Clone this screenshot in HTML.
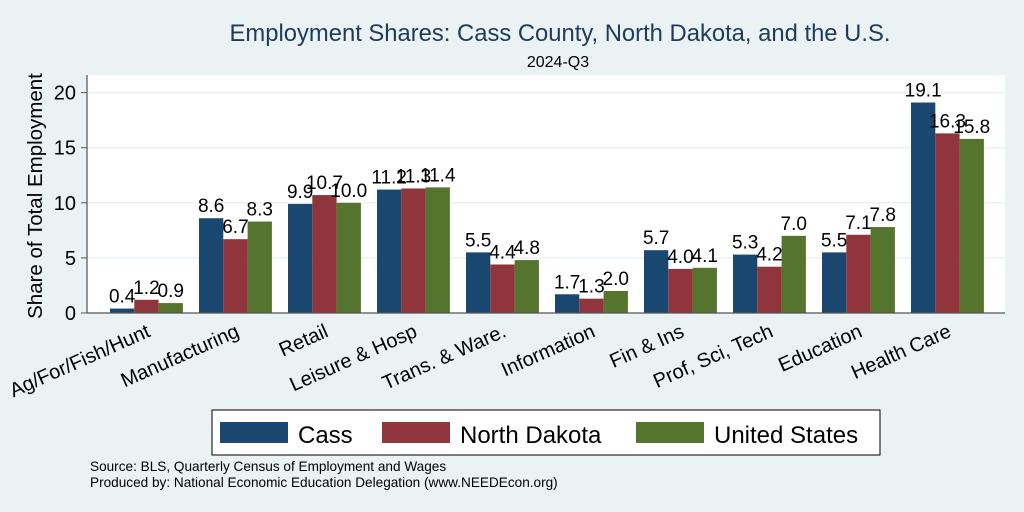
<!DOCTYPE html>
<html><head><meta charset="utf-8"><style>
body{margin:0;background:#eaf2f3;}
svg{display:block;font-family:"Liberation Sans",Arial,sans-serif;}
</style></head><body>
<svg id="c" width="1024" height="512" viewBox="0 0 1024 512">
<rect x="0" y="0" width="1024" height="512" fill="#eaf2f3"/>
<text x="560" y="41" font-size="23.8" fill="#1e3a5c" text-anchor="middle">Employment Shares: Cass County, North Dakota, and the U.S.</text>
<text x="558" y="67" font-size="16" fill="#000" text-anchor="middle">2024-Q3</text>
<rect x="87" y="75" width="918" height="238" fill="#fff"/>
<g id="grid"></g>
<g id="bars"></g>
<line x1="87" y1="75" x2="87" y2="313" stroke="#555" stroke-width="1.2"/>
<line x1="87" y1="313" x2="1005" y2="313" stroke="#555" stroke-width="1.2"/>
<text transform="translate(42,196) rotate(-90)" font-size="20.5" text-anchor="middle">Share of Total Employment</text>
<g>
<rect x="212" y="410" width="668" height="45" fill="#fff" stroke="#000" stroke-width="1"/>
<rect x="220" y="422" width="68" height="21" fill="#1a476f"/>
<text x="298" y="443" font-size="24">Cass</text>
<rect x="382" y="422" width="68" height="21" fill="#90353b"/>
<text x="460" y="443" font-size="24">North Dakota</text>
<rect x="636" y="422" width="68" height="21" fill="#55752f"/>
<text x="714" y="443" font-size="24">United States</text>
</g>
<text x="90" y="471" font-size="13.6">Source: BLS, Quarterly Census of Employment and Wages</text>
<text x="90" y="487" font-size="13.6">Produced by: National Economic Education Delegation (www.NEEDEcon.org)</text>
</svg>
<script>
const categories=["Ag/For/Fish/Hunt","Manufacturing","Retail","Leisure & Hosp","Trans. & Ware.","Information","Fin & Ins","Prof, Sci, Tech","Education","Health Care"];
const cass=[0.4,8.6,9.9,11.2,5.5,1.7,5.7,5.3,5.5,19.1];
const northDakota=[1.2,6.7,10.7,11.3,4.4,1.3,4.0,4.2,7.1,16.3];
const unitedStates=[0.9,8.3,10.0,11.4,4.8,2.0,4.1,7.0,7.8,15.8];
const yTicks=[0,5,10,15,20];
const NS="http://www.w3.org/2000/svg";
const y=v=>313-v*11.02;
const x0=i=>110+i*89;
const bw=24.3;
const grid=document.getElementById('grid'),bars=document.getElementById('bars');
function mk(tag,attrs,parent){const e=document.createElementNS(NS,tag);for(const k in attrs)e.setAttribute(k,attrs[k]);parent.appendChild(e);return e;}
yTicks.forEach(t=>{
 if(t>0){const g=mk('line',{x1:87,x2:1005,y1:y(t),y2:y(t),stroke:'#eaf2f3','stroke-width':1.5},grid);
 
 }
 const tk=mk('line',{x1:81,x2:87,y1:y(t),y2:y(t),stroke:'#555'},grid);
 
 
 const l=mk('text',{x:76,y:y(t)+7,'font-size':20,'text-anchor':'end'},grid);l.textContent=t;
 
 
});
const series=[[cass,'#1a476f','cass'],[northDakota,'#90353b','north-dakota'],[unitedStates,'#55752f','united-states']];
categories.forEach((c,i)=>{
 series.forEach(([vals,col,nm],s)=>{
  const bx=x0(i)+s*bw,v=vals[i];
  const r=mk('rect',{x:bx,y:y(v),width:bw,height:313-y(v),fill:col},bars);
  
  
  const t=mk('text',{x:bx+bw/2,y:y(v)-6,'font-size':19,'text-anchor':'middle'},bars);t.textContent=v.toFixed(1);
  
  
 });
 const cx=x0(i)+bw*1.5+5;
 const lab=mk('text',{transform:`translate(${cx},${336}) rotate(-24)`,'font-size':20,'text-anchor':'end'},bars);lab.textContent=c;
 
 
});
</script>
</body></html>
